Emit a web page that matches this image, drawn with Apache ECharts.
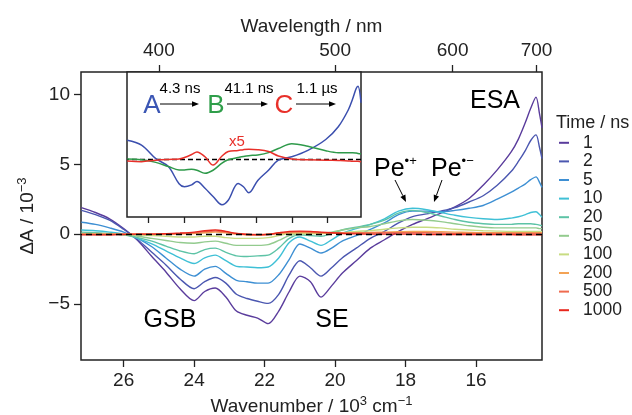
<!DOCTYPE html>
<html><head><meta charset="utf-8">
<script src="https://cdn.jsdelivr.net/npm/echarts@6/dist/echarts.min.js"></script>
<style>html,body{margin:0;padding:0;background:#fff}#c{width:632px;height:415px}</style>
</head><body><div id="c"></div>
<script>
// ---------- data ----------
const wavenumbers = [27.2, 26.8, 26.4, 26.0, 25.6, 25.2, 24.8, 24.4, 24.0, 23.7, 23.4, 23.1, 22.8, 22.5, 22.2, 21.9, 21.6, 21.3, 21.0, 20.7, 20.4, 20.1, 19.8, 19.4, 19.0, 18.6, 18.2, 17.8, 17.4, 17.0, 16.6, 16.2, 15.8, 15.4, 15.0, 14.8, 14.6, 14.45, 14.3, 14.2, 14.13];
const dA_1ns    = [1.9, 1.55, 1.1, 0.4, -0.45, -1.6, -2.7, -3.9, -4.75, -4.1, -3.85, -4.5, -5.5, -5.8, -6.0, -6.4, -5.5, -4.1, -3.0, -3.4, -4.5, -3.7, -2.8, -1.9, -1.0, -0.4, 0.2, 0.7, 1.1, 1.5, 1.95, 2.55, 3.5, 4.6, 5.9, 6.8, 8.0, 9.0, 9.8, 8.6, 7.6];
const dA_2ns    = [1.7, 1.4, 1.0, 0.35, -0.4, -1.3, -2.2, -3.2, -3.9, -3.4, -3.1, -3.5, -4.3, -4.6, -4.8, -4.95, -4.3, -2.9, -1.9, -2.4, -3.0, -2.4, -1.7, -1.0, -0.3, 0.2, 0.8, 1.25, 1.45, 1.65, 1.9, 2.3, 2.75, 3.5, 4.5, 5.2, 6.0, 6.7, 7.1, 6.2, 5.4];
const dA_5ns    = [0.85, 0.7, 0.45, 0.15, -0.3, -0.9, -1.7, -2.5, -3.0, -2.5, -2.3, -2.8, -3.3, -3.4, -3.5, -3.5, -2.9, -1.8, -0.7, -1.0, -1.35, -1.0, -0.5, -0.1, 0.35, 0.8, 1.4, 1.65, 1.65, 1.6, 1.7, 1.85, 2.05, 2.5, 3.0, 3.3, 3.6, 3.9, 4.1, 3.7, 3.35];
const dA_10ns   = [0.3, 0.25, 0.15, 0.0, -0.3, -0.7, -1.2, -1.7, -2.1, -1.7, -1.5, -1.9, -2.3, -2.35, -2.4, -2.35, -1.7, -0.6, -0.2, -0.5, -0.8, -0.4, 0.05, 0.4, 0.7, 1.1, 1.65, 1.85, 1.75, 1.55, 1.35, 1.2, 1.1, 1.05, 1.15, 1.25, 1.4, 1.55, 1.6, 1.4, 1.2];
const dA_20ns   = [0.15, 0.1, 0.05, -0.05, -0.25, -0.5, -0.85, -1.2, -1.4, -1.1, -1.0, -1.3, -1.55, -1.6, -1.55, -1.5, -1.0, -0.3, -0.05, -0.1, -0.15, 0.05, 0.3, 0.5, 0.7, 1.0, 1.5, 1.7, 1.55, 1.3, 1.05, 0.85, 0.75, 0.7, 0.7, 0.75, 0.75, 0.75, 0.7, 0.65, 0.6];
const dA_50ns   = [0.05, 0.05, 0.03, -0.05, -0.15, -0.3, -0.45, -0.6, -0.65, -0.55, -0.5, -0.65, -0.8, -0.8, -0.8, -0.75, -0.45, -0.1, 0.0, 0.05, 0.05, 0.15, 0.3, 0.45, 0.55, 0.75, 0.95, 1.05, 1.0, 0.9, 0.75, 0.6, 0.5, 0.45, 0.45, 0.45, 0.45, 0.45, 0.45, 0.4, 0.4];
const dA_100ns  = [0.0, 0.0, 0.0, -0.02, -0.05, -0.1, -0.15, -0.2, -0.2, -0.15, -0.15, -0.25, -0.3, -0.3, -0.3, -0.25, -0.1, 0.05, 0.05, 0.05, 0.05, 0.08, 0.1, 0.2, 0.25, 0.35, 0.45, 0.5, 0.5, 0.45, 0.35, 0.3, 0.25, 0.22, 0.2, 0.2, 0.2, 0.2, 0.2, 0.2, 0.2];
const dA_200ns  = [0.0, 0.0, 0.0, 0.0, 0.0, 0.0, 0.0, 0.02, 0.05, 0.1, 0.15, 0.1, 0.0, -0.05, -0.05, -0.02, 0.05, 0.1, 0.12, 0.1, 0.08, 0.08, 0.08, 0.1, 0.12, 0.15, 0.18, 0.2, 0.2, 0.18, 0.15, 0.12, 0.1, 0.1, 0.1, 0.1, 0.1, 0.1, 0.1, 0.1, 0.1];
const dA_500ns  = [0.0, -0.02, -0.02, 0.0, 0.0, 0.0, 0.02, 0.05, 0.1, 0.18, 0.22, 0.15, 0.05, 0.0, -0.02, 0.0, 0.08, 0.15, 0.18, 0.15, 0.12, 0.1, 0.08, 0.08, 0.08, 0.1, 0.1, 0.1, 0.1, 0.08, 0.06, 0.05, 0.05, 0.05, 0.05, 0.05, 0.05, 0.05, 0.05, 0.05, 0.05];
const dA_1000ns = [-0.05, -0.05, -0.05, -0.02, 0.0, 0.0, 0.03, 0.08, 0.15, 0.25, 0.3, 0.2, 0.05, -0.02, -0.05, -0.02, 0.1, 0.2, 0.22, 0.2, 0.15, 0.1, 0.05, 0.02, 0.0, 0.0, 0.0, 0.0, -0.02, -0.02, -0.02, -0.02, -0.03, -0.03, -0.03, -0.05, -0.05, -0.05, -0.05, -0.05, -0.05];
const timeLabels = ['1', '2', '5', '10', '20', '50', '100', '200', '500', '1000'];
const timeSeries = [dA_1ns, dA_2ns, dA_5ns, dA_10ns, dA_20ns, dA_50ns, dA_100ns, dA_200ns, dA_500ns, dA_1000ns];
const timeColors = ['#5a3c9c', '#4b57b0', '#3d8fd3', '#3fc0d6', '#5dc3a6', '#93cb8e', '#c8dc82', '#f3a355', '#ef6b4f', '#e8271d'];

// inset (species-associated spectra)
const insetWavenumbers = [27.2, 26.4, 25.6, 24.9, 24.3, 24.0, 23.6, 23.3, 22.85, 22.4, 21.9, 21.55, 21.0, 20.7, 20.4, 19.9, 19.3, 18.75, 18.0, 17.1, 16.1, 15.4, 14.85, 14.6, 14.4, 14.3, 14.13];
const specA = [2.5, 1.85, 0.05, -1.0, -3.3, -3.7, -3.45, -3.0, -3.9, -5.0, -6.1, -5.5, -3.25, -3.7, -4.5, -2.85, -1.5, -0.15, 0.3, 1.15, 2.6, 4.3, 6.5, 8.0, 9.4, 9.7, 7.5];
const specB = [0.0, -0.1, -0.45, -1.0, -1.45, -1.45, -1.37, -1.5, -1.9, -1.5, -0.55, -0.1, 0.2, 0.35, 0.45, 0.55, 0.85, 1.4, 2.05, 1.7, 1.1, 0.85, 0.85, 0.85, 0.8, 0.75, 0.7];
const specC_x5 = [-0.27, -0.35, -0.15, -0.05, 0.0, 0.2, 0.6, 0.95, 0.3, -0.8, 0.4, 1.0, 1.15, 1.25, 1.3, 1.25, 1.0, 0.4, 0.0, -0.1, -0.15, -0.2, -0.25, -0.3, -0.3, -0.3, -0.35];

const wavenumberTicks = [16, 18, 20, 22, 24, 26];
const wavelengthTicks = [400, 500, 600, 700];
const dATicks = [-5, 0, 5, 10];

// ---------- chart ----------
const FONT = 'Liberation Sans';
const INK = '#222';
const chart = echarts.init(document.getElementById('c'), null, {renderer: 'canvas'});

const pairs = (xs, ys) => xs.map((x, i) => [x, ys[i]]);

function arrow(x1, y1, x2, y2) {
  const a = Math.atan2(y2 - y1, x2 - x1), L = 7, W = 2.8;
  const bx = x2 - L * Math.cos(a), by = y2 - L * Math.sin(a);
  const px = -Math.sin(a) * W, py = Math.cos(a) * W;
  return [
    {type: 'line', z: 100, shape: {x1, y1, x2: bx, y2: by}, style: {stroke: '#000', lineWidth: 1}},
    {type: 'polygon', z: 100, shape: {points: [[x2, y2], [bx + px, by + py], [bx - px, by - py]]}, style: {fill: '#000'}}
  ];
}
function txt(x, y, text, size, color, extra) {
  return {type: 'text', z: 100, x, y, style: Object.assign({text, fontSize: size, fontFamily: FONT, fill: color, align: 'center', verticalAlign: 'middle'}, extra || {})};
}
function supText(x, y, base, sup) {
  return {type: 'text', z: 100, x, y, style: {text: '{a|' + base + '}{s|' + sup + '}', fontFamily: FONT, fill: '#000', verticalAlign: 'middle',
    rich: {a: {fontSize: 25, fontFamily: FONT, lineHeight: 28}, s: {fontSize: 13, fontFamily: FONT, verticalAlign: 'top', lineHeight: 28}}}};
}

const mainSeries = timeSeries.map((arr, i) => ({
  name: timeLabels[i], type: 'line', xAxisIndex: 0, yAxisIndex: 0,
  data: pairs(wavenumbers, arr), showSymbol: false, smooth: 0.3,
  lineStyle: {width: 1.4, color: timeColors[i]}, itemStyle: {color: timeColors[i]}, z: 2 + i * 0.01
}));
mainSeries[mainSeries.length - 1].markLine = {
  silent: true, symbol: 'none', label: {show: false}, animation: false,
  lineStyle: {color: '#000', type: [6, 4], width: 1.3}, data: [{yAxis: 0}]
};

const insetColors = ['#3b4fae', '#2e9a4a', '#e8302a'];
const insetSeries = [specA, specB, specC_x5].map((arr, i) => ({
  name: 'inset' + i, type: 'line', xAxisIndex: 2, yAxisIndex: 1,
  data: pairs(insetWavenumbers, arr), showSymbol: false, smooth: 0.35, z: 6,
  lineStyle: {width: 1.5, color: insetColors[i]}, itemStyle: {color: insetColors[i]}
}));
insetSeries[0].markLine = {
  silent: true, symbol: 'none', label: {show: false}, animation: false,
  lineStyle: {color: '#000', type: [5, 3], width: 1.3}, data: [{yAxis: 0}]
};

const graphic = [
  txt(556, 123, 'Time / ns', 18, INK, {align: 'left'}),
  txt(495, 101, 'ESA', 25, '#000'),
  txt(170, 320, 'GSB', 25, '#000'),
  txt(332, 320, 'SE', 25, '#000'),
  supText(374, 169, 'Pe', '•+'),
  supText(431, 169, 'Pe', '•−'),
  ...arrow(395, 180, 406, 202),
  ...arrow(442, 180, 434, 202),
  // inset scheme
  txt(152, 106, 'A', 26, '#3b56b4'),
  txt(216, 106, 'B', 26, '#2f9e4a'),
  txt(284, 106, 'C', 26, '#e8302a'),
  ...arrow(160, 104, 199, 104),
  ...arrow(227, 104, 268, 104),
  ...arrow(296, 104, 336, 104),
  txt(180, 89, '4.3 ns', 15, '#000'),
  txt(249, 89, '41.1 ns', 15, '#000'),
  txt(317, 89, '1.1 µs', 15, '#000'),
  txt(237, 142, 'x5', 15, '#e8302a')
];

const supRich = {a: {fontSize: 19, fontFamily: FONT, color: INK, lineHeight: 24}, s: {fontSize: 13, fontFamily: FONT, color: INK, verticalAlign: 'top', lineHeight: 24}};

const option = {
  animation: false,
  backgroundColor: '#fff',
  textStyle: {fontFamily: FONT},
  grid: [
    {left: 81, right: 90, top: 72, bottom: 55, show: true, borderColor: INK, borderWidth: 1.5, backgroundColor: 'transparent', containLabel: false, outerBoundsMode: 'none'},
    {left: 127, width: 234, top: 72, height: 145, show: true, borderColor: INK, borderWidth: 1.5, backgroundColor: '#fff', z: 5, containLabel: false, outerBoundsMode: 'none'}
  ],
  legend: {
    data: timeLabels, orient: 'vertical', left: 554, top: 128.5, icon: 'rect', itemWidth: 10, itemHeight: 2, itemGap: 0,
    textStyle: {fontSize: 17.5, fontFamily: FONT, color: INK, lineHeight: 18.6, padding: [0, 0, 0, 9]}, selectedMode: false
  },
  xAxis: [
    {type: 'value', gridIndex: 0, position: 'bottom', inverse: true, min: 14.13, max: 27.21,
      axisLine: {show: false, onZero: false}, splitLine: {show: false},
      axisTick: {show: true, length: 7, customValues: wavenumberTicks, lineStyle: {color: INK, width: 1.3}},
      axisLabel: {customValues: wavenumberTicks, fontSize: 19, color: INK, margin: 11, fontFamily: FONT},
      name: '{a|Wavenumber / 10}{s|3}{a| cm}{s|−1}', nameLocation: 'middle', nameGap: 31,
      nameTextStyle: {color: INK, rich: supRich}
    },
    {type: 'value', gridIndex: 0, position: 'top', inverse: true, min: 14.13, max: 27.21,
      axisLine: {show: false, onZero: false}, splitLine: {show: false},
      axisTick: {show: true, length: 7, customValues: wavelengthTicks.map(nm => 10000 / nm), lineStyle: {color: INK, width: 1.3}},
      axisLabel: {customValues: wavelengthTicks.map(nm => 10000 / nm), formatter: v => String(Math.round(10000 / v)), fontSize: 19, color: INK, margin: 12, fontFamily: FONT},
      name: 'Wavelength / nm', nameLocation: 'middle', nameGap: 36, nameTextStyle: {fontSize: 19, color: INK, fontFamily: FONT}
    },
    {type: 'value', gridIndex: 1, position: 'bottom', inverse: true, min: 14.13, max: 27.21, z: 7,
      axisLine: {show: false, onZero: false}, splitLine: {show: false},
      axisTick: {show: true, length: 6, customValues: wavenumberTicks, lineStyle: {color: INK, width: 1.3}},
      axisLabel: {show: false}
    }
  ],
  yAxis: [
    {type: 'value', gridIndex: 0, min: -9, max: 11.6,
      axisLine: {show: false, onZero: false}, splitLine: {show: false},
      axisTick: {show: true, length: 7, customValues: dATicks, lineStyle: {color: INK, width: 1.3}},
      axisLabel: {customValues: dATicks, formatter: v => (v < 0 ? '\u2212' + Math.abs(v) : String(v)), fontSize: 19, color: INK, margin: 11, fontFamily: FONT},
      name: '{a|ΔA / 10}{s|−3}', nameLocation: 'middle', nameGap: 40,
      nameTextStyle: {color: INK, rich: supRich}
    },
    {type: 'value', gridIndex: 1, min: -7.73, max: 11.6, z: 7,
      axisLine: {show: false, onZero: false}, splitLine: {show: false}, axisTick: {show: false}, axisLabel: {show: false}
    }
  ],
  series: [...mainSeries, ...insetSeries],
  graphic: graphic
};
chart.setOption(option);
</script>
</body></html>
